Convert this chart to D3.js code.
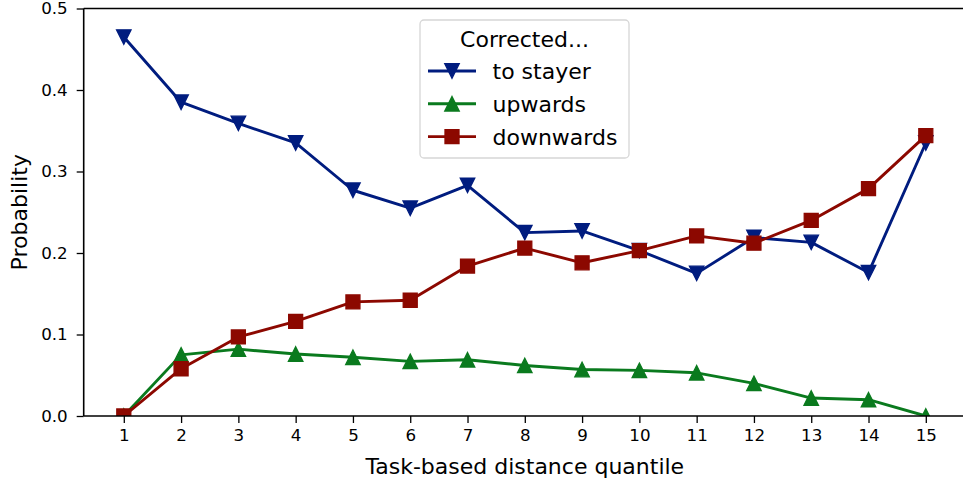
<!DOCTYPE html>
<html>
<head>
<meta charset="utf-8">
<script src="https://cdn.jsdelivr.net/npm/d3@7"></script>
<style>
  html, body { margin: 0; padding: 0; background: #fff; }
  svg { display: block; }
  text { font-family: "DejaVu Sans", sans-serif; fill: #000; }
</style>
</head>
<body>
<svg id="chart" width="963" height="486"></svg>
<script>
// ---- data ----
const quantiles = [1,2,3,4,5,6,7,8,9,10,11,12,13,14,15];
const toStayer  = [0.465,0.385,0.359,0.335,0.277,0.255,0.283,0.225,0.227,0.203,0.175,0.219,0.213,0.176,0.335];
const upwards   = [0.000,0.075,0.082,0.076,0.072,0.067,0.069,0.062,0.057,0.056,0.053,0.040,0.022,0.020,0.000];
const downwards = [0.000,0.058,0.097,0.116,0.140,0.142,0.184,0.206,0.188,0.203,0.221,0.212,0.240,0.279,0.344];
const yTicks = [0.0,0.1,0.2,0.3,0.4,0.5];
const seriesNames = ["to stayer","upwards","downwards"];
const legendTitle = "Corrected...";
const xLabel = "Task-based distance quantile";
const yLabel = "Probability";

const colors = ["#001c7f", "#0a7a1e", "#8c0800"];
const markers = ["tri-down", "tri-up", "square"];

const svg = d3.select("#chart");
const L = 83.7, R = 965.9, T = 8.5, B = 416;
const x = d3.scaleLinear().domain([0.3, 15.7]).range([L, R]);
const y = d3.scaleLinear().domain([0, 0.5]).range([B, T]);

svg.append("defs").append("clipPath").attr("id", "clip")
  .append("rect").attr("x", L).attr("y", T).attr("width", R - L).attr("height", B - T);

function markerPath(type, s) {
  const h = s / 2;
  if (type === "square") return `M${-h},${-h}H${h}V${h}H${-h}Z`;
  if (type === "tri-down") return `M${-h},${-h}L${h},${-h}L0,${h}Z`;
  return `M0,${-h}L${h},${h}L${-h},${h}Z`;
}

const series = [toStayer, upwards, downwards];
const plot = svg.append("g").attr("clip-path", "url(#clip)");
const line = d3.line().x((d, i) => x(quantiles[i])).y(d => y(d));

series.forEach((vals, si) => {
  const g = plot.append("g");
  g.append("path").datum(vals).attr("d", line)
    .attr("fill", "none").attr("stroke", colors[si]).attr("stroke-width", 2.9)
    .attr("stroke-linejoin", "round");
  g.selectAll("path.m").data(vals).enter().append("path")
    .attr("class", "m")
    .attr("transform", (d, i) => `translate(${x(quantiles[i])},${y(d)})`)
    .attr("d", markerPath(markers[si], markers[si] === "square" ? 14 : 14.5))
    .attr("fill", colors[si]).attr("stroke", colors[si]).attr("stroke-width", 1.3)
    .attr("stroke-linejoin", "miter");
});

// axes
const xAxis = d3.axisBottom(x).tickValues(quantiles).tickFormat(d3.format("d")).tickSize(7).tickPadding(6);
const gx = svg.append("g").attr("transform", `translate(0,${B})`).call(xAxis);
gx.select(".domain").remove();
gx.selectAll(".tick line").attr("stroke", "#000").attr("stroke-width", 1.3);
gx.selectAll(".tick text").style("font-size", "16.7px").attr("fill", "#000");

const yAxis = d3.axisLeft(y).tickValues(yTicks).tickFormat(d3.format(".1f")).tickSize(7).tickPadding(9);
const gy = svg.append("g").attr("transform", `translate(${L},0)`).call(yAxis);
gy.select(".domain").remove();
gy.selectAll(".tick line").attr("stroke", "#000").attr("stroke-width", 1.3);
gy.selectAll(".tick text").style("font-size", "16.7px").attr("fill", "#000");

// spines
const sp = svg.append("g").attr("stroke", "#000").attr("stroke-width", 1.6).attr("fill", "none");
sp.append("line").attr("x1", L).attr("x2", L).attr("y1", T).attr("y2", B);
sp.append("line").attr("x1", L).attr("x2", R).attr("y1", B).attr("y2", B);
sp.append("line").attr("x1", L).attr("x2", R).attr("y1", T).attr("y2", T);
sp.append("line").attr("x1", R).attr("x2", R).attr("y1", T).attr("y2", B);

// labels
svg.append("text").attr("x", (x(1) + x(15)) / 2).attr("y", 474)
  .attr("text-anchor", "middle").style("font-size", "22px").text(xLabel);
svg.append("text").attr("transform", `translate(26.5,${(T + B) / 2}) rotate(-90)`)
  .attr("text-anchor", "middle").style("font-size", "22px").text(yLabel);

// legend
const lg = svg.append("g");
lg.append("rect").attr("x", 420).attr("y", 20).attr("width", 209).attr("height", 138)
  .attr("rx", 4).attr("fill", "#fff").attr("fill-opacity", 0.8)
  .attr("stroke", "#d6d6d6").attr("stroke-width", 1.3);
lg.append("text").attr("x", 524.5).attr("y", 47).attr("text-anchor", "middle")
  .style("font-size", "22px").text(legendTitle);
seriesNames.forEach((name, i) => {
  const cy = 71 + i * 32.8;
  lg.append("line").attr("x1", 428).attr("x2", 476).attr("y1", cy).attr("y2", cy)
    .attr("stroke", colors[i]).attr("stroke-width", 2.9);
  lg.append("path").attr("transform", `translate(452,${cy})`)
    .attr("d", markerPath(markers[i], markers[i] === "square" ? 14 : 14.5))
    .attr("fill", colors[i]).attr("stroke", colors[i]).attr("stroke-width", 1.3);
  lg.append("text").attr("x", 492.5).attr("y", cy + 8).style("font-size", "22px").text(name);
});
</script>
</body>
</html>
